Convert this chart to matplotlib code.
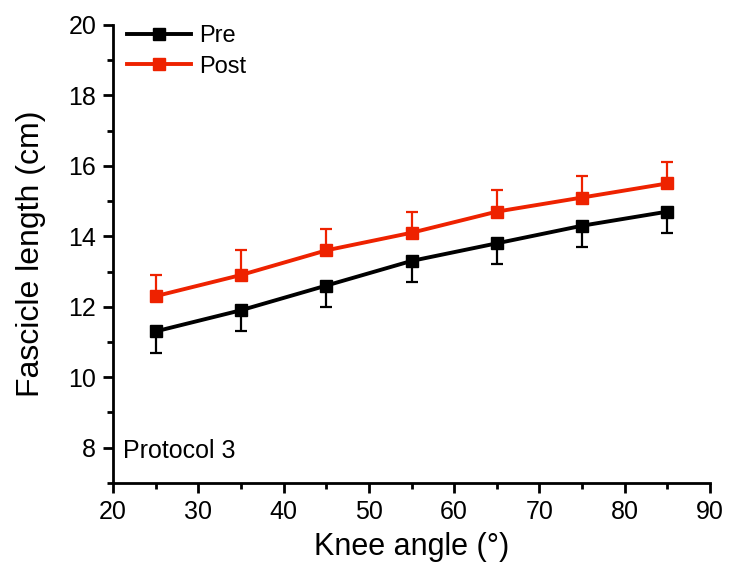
import numpy as np
import matplotlib.pyplot as plt
from matplotlib.ticker import MultipleLocator

plt.rcParams['font.family'] = ['Liberation Sans', 'DejaVu Sans']

# Data
angles = [25, 35, 45, 55, 65, 75, 85]
pre = [11.3, 11.9, 12.6, 13.3, 13.8, 14.3, 14.7]
pre_sd = [0.6, 0.6, 0.6, 0.6, 0.6, 0.6, 0.6]
post = [12.3, 12.9, 13.6, 14.1, 14.7, 15.1, 15.5]
post_sd = [0.6, 0.7, 0.6, 0.6, 0.6, 0.6, 0.6]

RED = '#ee2200'


def main():
    fig = plt.figure(figsize=(7.29, 5.79), dpi=100)
    ax = fig.add_axes([0.155, 0.166, 0.819, 0.791])

    zeros = np.zeros(len(angles))

    # Pre: error bars pointing down only
    ax.errorbar(angles, pre, yerr=[pre_sd, zeros], color='black',
                marker='s', markersize=9, linewidth=2.8, elinewidth=1.6,
                capsize=4, capthick=1.6, label='Pre')
    # Post: error bars pointing up only
    ax.errorbar(angles, post, yerr=[zeros, post_sd], color=RED,
                marker='s', markersize=9, linewidth=2.8, elinewidth=1.6,
                capsize=4, capthick=1.6, label='Post')

    ax.set_xlim(20, 90)
    ax.set_ylim(7, 20)
    ax.xaxis.set_major_locator(MultipleLocator(10))
    ax.xaxis.set_minor_locator(MultipleLocator(5))
    ax.yaxis.set_minor_locator(MultipleLocator(1))
    ax.set_yticks([8, 10, 12, 14, 16, 18, 20])

    for side in ('top', 'right'):
        ax.spines[side].set_visible(False)
    for side in ('left', 'bottom'):
        ax.spines[side].set_linewidth(2)
    ax.tick_params(which='major', direction='out', length=7, width=2,
                   labelsize=18, pad=5)
    ax.tick_params(which='minor', direction='out', length=4, width=2)

    ax.set_xlabel('Knee angle (°)', fontsize=22, labelpad=6)
    ax.set_ylabel('Fascicle length (cm)', fontsize=23, labelpad=16)

    ax.text(21.2, 7.9, 'Protocol 3', fontsize=18, va='center', ha='left')

    # Legend without error bars
    h, l = ax.get_legend_handles_labels()
    h = [hh[0] for hh in h]
    ax.legend(h, l, loc='upper left', frameon=False, fontsize=17,
              handlelength=2.7, handletextpad=0.35, borderaxespad=0.2,
              labelspacing=0.35, bbox_to_anchor=(0.0, 1.03))

    fig.savefig('out.png', dpi=100)


if __name__ == '__main__':
    main()
